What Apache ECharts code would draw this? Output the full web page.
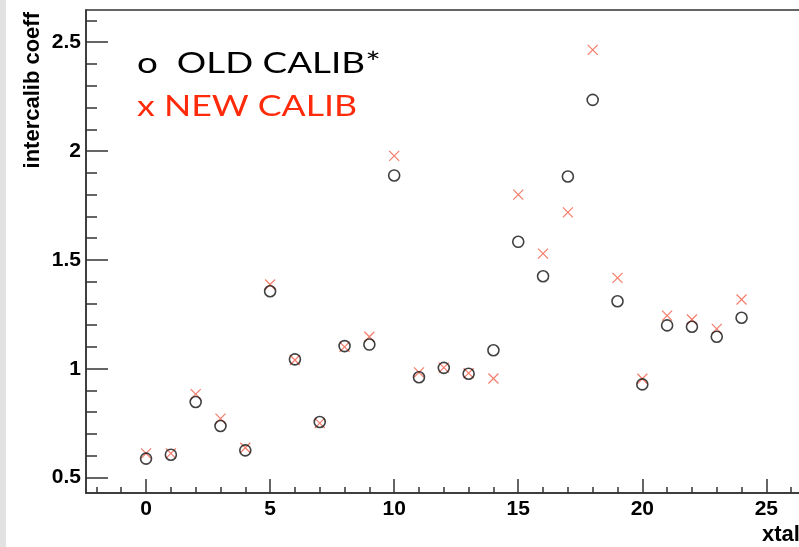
<!DOCTYPE html>
<html>
<head>
<meta charset="utf-8">
<script src="https://cdn.jsdelivr.net/npm/echarts@6/dist/echarts.min.js"></script>
<style>
html,body{margin:0;padding:0;background:#fff;}
#main{width:799px;height:547px;}
</style>
</head>
<body>
<div id="main"></div>
<script>
var xtal = [0,1,2,3,4,5,6,7,8,9,10,11,12,13,14,15,16,17,18,19,20,21,22,23,24];
var oldCalib = [0.587,0.605,0.847,0.737,0.625,1.356,1.043,0.755,1.104,1.111,1.888,0.961,1.004,0.977,1.085,1.583,1.425,1.883,2.235,1.310,0.928,1.199,1.193,1.147,1.234];
var newCalib = [0.611,0.611,0.883,0.771,0.637,1.387,1.040,0.750,1.100,1.147,1.978,0.983,1.005,0.980,0.955,1.800,1.529,1.718,2.465,1.417,0.954,1.244,1.226,1.183,1.318];
var xMajorTicks = [0,5,10,15,20,25];
var xMinorTicks = [-2,-1,0,1,2,3,4,5,6,7,8,9,10,11,12,13,14,15,16,17,18,19,20,21,22,23,24,25,26,27];
var yMajorTicks = [0.5,1,1.5,2,2.5];
var yMinorTicks = [0.5,0.6,0.7,0.8,0.9,1.0,1.1,1.2,1.3,1.4,1.5,1.6,1.7,1.8,1.9,2.0,2.1,2.2,2.3,2.4,2.5,2.6];
var yTitle = 'intercalib coeff';
var xTitle = 'xtal';
var legendOld = 'o  OLD CALIB*';
var legendNew = 'x NEW CALIB';

var XMIN = -2.42, XMAX = 27, YMIN = 0.429, YMAX = 2.648;
var axisColor = '#333';
var labelFont = {fontFamily:'Liberation Sans', fontWeight:'bold', fontSize:21, color:'#000'};

var chart = echarts.init(document.getElementById('main'), null, {renderer:'canvas'});
function pairs(xs, ys){ return xs.map(function(x,i){ return [x, ys[i]]; }); }

chart.setOption({
  animation:false,
  backgroundColor:'#fff',
  grid:{left:86, top:10, width:730, bottom:54, outerBoundsMode:'none', containLabel:false,
        show:true, borderColor:axisColor, borderWidth:1.5, backgroundColor:'transparent'},
  xAxis:[
    {type:'value', min:XMIN, max:XMAX, position:'bottom',
     axisLine:{show:true, onZero:false, lineStyle:{color:axisColor, width:1.5}},
     axisTick:{show:true, inside:true, length:14, customValues:xMajorTicks, lineStyle:{color:axisColor, width:1.5}},
     axisLabel:Object.assign({show:true, margin:6, customValues:xMajorTicks}, labelFont),
     splitLine:{show:false}},
    {type:'value', min:XMIN, max:XMAX, position:'bottom', offset:0,
     axisLine:{show:false, onZero:false},
     axisTick:{show:true, inside:true, length:6, customValues:xMinorTicks, lineStyle:{color:axisColor, width:1.5}},
     axisLabel:{show:false},
     splitLine:{show:false}}
  ],
  yAxis:[
    {type:'value', min:YMIN, max:YMAX, position:'left',
     axisLine:{show:true, onZero:false, lineStyle:{color:axisColor, width:1.5}},
     axisTick:{show:true, inside:true, length:22, customValues:yMajorTicks, lineStyle:{color:axisColor, width:1.5}},
     axisLabel:Object.assign({show:true, margin:5, customValues:yMajorTicks}, labelFont),
     splitLine:{show:false}},
    {type:'value', min:YMIN, max:YMAX, position:'left', offset:0,
     axisLine:{show:false, onZero:false},
     axisTick:{show:true, inside:true, length:11, customValues:yMinorTicks, lineStyle:{color:axisColor, width:1.5}},
     axisLabel:{show:false},
     splitLine:{show:false}}
  ],
  series:[
    {type:'scatter', xAxisIndex:0, yAxisIndex:0, data:pairs(xtal, newCalib),
     symbol:'path://M0,0L10,10M10,0L0,10', symbolSize:10,
     itemStyle:{color:'none', borderColor:'#f25a45', borderWidth:1.2}, z:3},
    {type:'scatter', xAxisIndex:0, yAxisIndex:0, data:pairs(xtal, oldCalib),
     symbol:'circle', symbolSize:11,
     itemStyle:{color:'none', borderColor:'#111', borderWidth:1.6}, z:4}
  ],
  graphic:[
    {type:'rect', left:0, top:0, shape:{width:6, height:547}, style:{fill:'#e2e2e2'}, silent:true, z:-10},
    {type:'text', x:33, y:12, rotation:Math.PI/2,
     style:{text:yTitle, font:'bold 22px "Liberation Sans"', fill:'#000', textAlign:'right', textVerticalAlign:'middle'}},
    {type:'text', x:762, y:535,
     style:{text:xTitle, font:'bold 22px "Liberation Sans"', fill:'#000', textAlign:'left', textVerticalAlign:'middle'}},
    {type:'text', x:137, y:64, scaleX:1.27,
     style:{text:legendOld, font:'400 29px Lato', fill:'#000', textAlign:'left', textVerticalAlign:'middle'}},
    {type:'text', x:137, y:107, scaleX:1.23,
     style:{text:legendNew, font:'400 29px Lato', fill:'#ff2a0a', textAlign:'left', textVerticalAlign:'middle'}}
  ]
});
</script>
</body>
</html>
